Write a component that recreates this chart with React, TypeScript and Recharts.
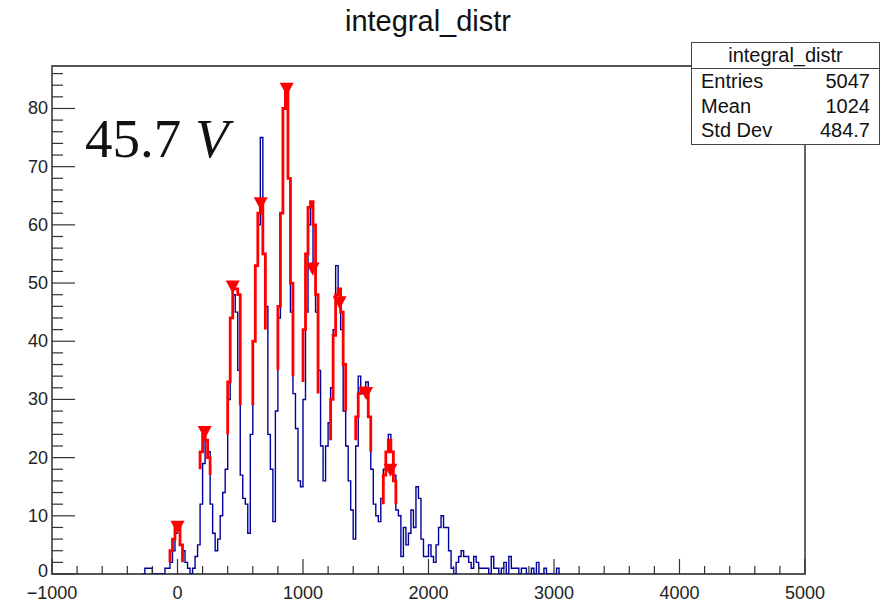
import React from 'react';
import { ComposedChart, Line, Scatter, XAxis, YAxis, ReferenceArea } from 'recharts';

// histogram: 20-unit bins starting at -260
const binStart = -260;
const binWidth = 20;
const counts = [
  1, 1, 1, 0, 0, 0, 0, 0, 1, 1, 2, 4, 7, 8, 5, 4, 2, 1, 0, 1,
  3, 5, 12, 19, 23, 21, 12, 7, 4, 6, 10, 14, 18, 30, 44, 48, 45, 35, 17, 13,
  12, 7, 24, 40, 53, 60, 75, 55, 46, 24, 18, 9, 28, 44, 62, 80, 83, 68, 45, 31,
  25, 16, 15, 30, 45, 60, 64, 52, 45, 35, 22, 16, 22, 26, 32, 42, 53, 48, 42, 28,
  22, 16, 11, 6, 22, 34, 31, 31, 33, 27, 18, 12, 10, 9, 13, 18, 21, 24, 21, 17,
  11, 10, 3, 8, 5, 7, 11, 8, 15, 13, 6, 3, 3, 5, 3, 2, 5, 8, 10, 8,
  8, 4, 1, 0, 2, 3, 4, 3, 3, 2, 1, 3, 2, 1, 1, 1, 1, 0, 3, 1,
  1, 0, 1, 2, 0, 3, 1, 1, 1, 0, 1, 1, 0, 0, 1, 0, 2, 0, 0, 1,
  0, 0, 0, 0, 1,
];

// peak fits: [left foot, bin values..., right foot], first bin at fitStarts[i]
const fitStarts = [-60, 180, 400, 600, 800, 1000, 1220, 1420, 1640];
const fitValues = [
  [2, 4, 6, 8, 8, 5, 2],
  [18, 21, 24, 23, 20, 17],
  [24, 33, 44, 49, 49, 48, 29],
  [29, 40, 53, 62, 64, 55, 42],
  [35, 46, 62, 80, 83, 68, 50, 34],
  [33, 42, 55, 63, 64, 60, 48, 31],
  [23, 30, 41, 48, 49, 45, 36, 28],
  [23, 27, 31, 32, 32, 31, 27, 21],
  [12, 17, 21, 23, 21, 16, 12],
];

// found peaks (markers)
const peakX = [0, 217, 440, 663, 870, 1077, 1292, 1503, 1697];
const peakY = [8.1, 24.4, 49.4, 63.7, 83.4, 52.5, 46.7, 31.1, 17.9];

const xMajor = [-1000, 0, 1000, 2000, 3000, 4000, 5000];
const yMajor = [0, 10, 20, 30, 40, 50, 60, 70, 80];

const W = 896;
const H = 602;
const PLOT_LEFT = 52;
const PLOT_BOTTOM = 574;
const Y_MAX = 87.3;
const FONT = '"Liberation Sans", Arial, Helvetica, sans-serif';

const histData = [{ x: binStart - binWidth, y: 0 }]
  .concat(counts.map((c, i) => ({ x: binStart + i * binWidth, y: c })))
  .concat([{ x: binStart + counts.length * binWidth, y: 0 }]);

const fitData = fitStarts.map((s, k) => {
  const v = fitValues[k];
  const pts = [{ x: s, y: v[0] }];
  for (let i = 1; i < v.length - 1; i++) pts.push({ x: s + (i - 1) * binWidth, y: v[i] });
  pts.push({ x: s + (v.length - 2) * binWidth, y: v[v.length - 1] });
  return pts;
});

const peaks = peakX.map((x, i) => ({ x, y: peakY[i] }));

const xTicks: number[] = [];
for (let v = -1000; v <= 5000; v += 200) xTicks.push(v);
const yTicks: number[] = [];
for (let v = 0; v <= 86; v += 2) yTicks.push(v);

function XTick(props: any) {
  const { x, payload } = props;
  const v = payload.value;
  const major = xMajor.includes(v);
  return (
    <g>
      <line x1={x} x2={x} y1={PLOT_BOTTOM} y2={PLOT_BOTTOM - (major ? 15 : 8)} stroke="#333" strokeWidth={1.2} />
      {major && (
        <text x={x} y={599} textAnchor="middle" fontSize={18} fill="#222" fontFamily={FONT}>
          {v < 0 ? '\u2212' + Math.abs(v) : v}
        </text>
      )}
    </g>
  );
}

function YTick(props: any) {
  const { y, payload } = props;
  const v = payload.value;
  const major = yMajor.includes(v);
  return (
    <g>
      <line x1={PLOT_LEFT} x2={PLOT_LEFT + (major ? 23 : 11)} y1={y} y2={y} stroke="#333" strokeWidth={1.2} />
      {major && (
        <text x={48} y={v === 0 ? y + 3 : y + 6} textAnchor="end" fontSize={18} fill="#222" fontFamily={FONT}>
          {v}
        </text>
      )}
    </g>
  );
}

function Marker(props: any) {
  const { cx, cy } = props;
  return <polygon points={`${cx - 7},${cy - 6} ${cx + 7},${cy - 6} ${cx},${cy + 7}`} fill="#ff0000" />;
}

export default function App() {
  return (
    <div style={{ position: 'absolute', left: 0, top: 0, width: W, height: H, background: '#fff' }}>
      <ComposedChart width={W} height={H} margin={{ top: 66, right: 91, bottom: 8, left: 0 }}>
        <XAxis
          type="number"
          dataKey="x"
          domain={[-1000, 5000]}
          ticks={xTicks}
          interval={0}
          height={20}
          axisLine={false}
          tickLine={false}
          tick={(p: any) => <XTick {...p} />}
        />
        <YAxis
          type="number"
          domain={[0, Y_MAX]}
          ticks={yTicks}
          interval={0}
          width={52}
          allowDataOverflow
          axisLine={false}
          tickLine={false}
          tick={(p: any) => <YTick {...p} />}
        />
        <ReferenceArea x1={-1000} x2={5000} y1={0} y2={Y_MAX} fill="none" stroke="#555" strokeWidth={1.8} />
        <Line
          data={histData}
          dataKey="y"
          type="stepAfter"
          stroke="#00009c"
          strokeWidth={1.4}
          dot={false}
          isAnimationActive={false}
        />
        {fitData.map((d, i) => (
          <Line
            key={i}
            data={d}
            dataKey="y"
            type="stepAfter"
            stroke="#ff0000"
            strokeWidth={2.8}
            dot={false}
            isAnimationActive={false}
          />
        ))}
        <Scatter data={peaks} dataKey="y" shape={(p: any) => <Marker {...p} />} isAnimationActive={false} />
      </ComposedChart>

      <svg width={W} height={H} style={{ position: 'absolute', left: 0, top: 0, pointerEvents: 'none' }}>
        <text x={428} y={31} textAnchor="middle" fontSize={29} fill="#111" fontFamily={FONT}>
          integral_distr
        </text>
        <text x={85} y={157} fontSize={55} fill="#111" fontFamily='"Liberation Serif", "Times New Roman", serif'>
          45.7 <tspan fontStyle="italic">V</tspan>
        </text>
      </svg>

      <div
        style={{
          position: 'absolute',
          left: 691,
          top: 42,
          width: 189,
          height: 103,
          boxSizing: 'border-box',
          border: '1.5px solid #444',
          background: '#fff',
          fontFamily: FONT,
          fontSize: 20,
          color: '#111',
        }}
      >
        <div style={{ height: 25, lineHeight: '25px', textAlign: 'center', borderBottom: '1.5px solid #444' }}>
          integral_distr
        </div>
        {[
          ['Entries', '5047'],
          ['Mean', '1024'],
          ['Std Dev', '484.7'],
        ].map(([k, v]) => (
          <div
            key={k}
            style={{ display: 'flex', justifyContent: 'space-between', height: 24.5, lineHeight: '24.5px', padding: '0 9px' }}
          >
            <span>{k}</span>
            <span>{v}</span>
          </div>
        ))}
      </div>
    </div>
  );
}
